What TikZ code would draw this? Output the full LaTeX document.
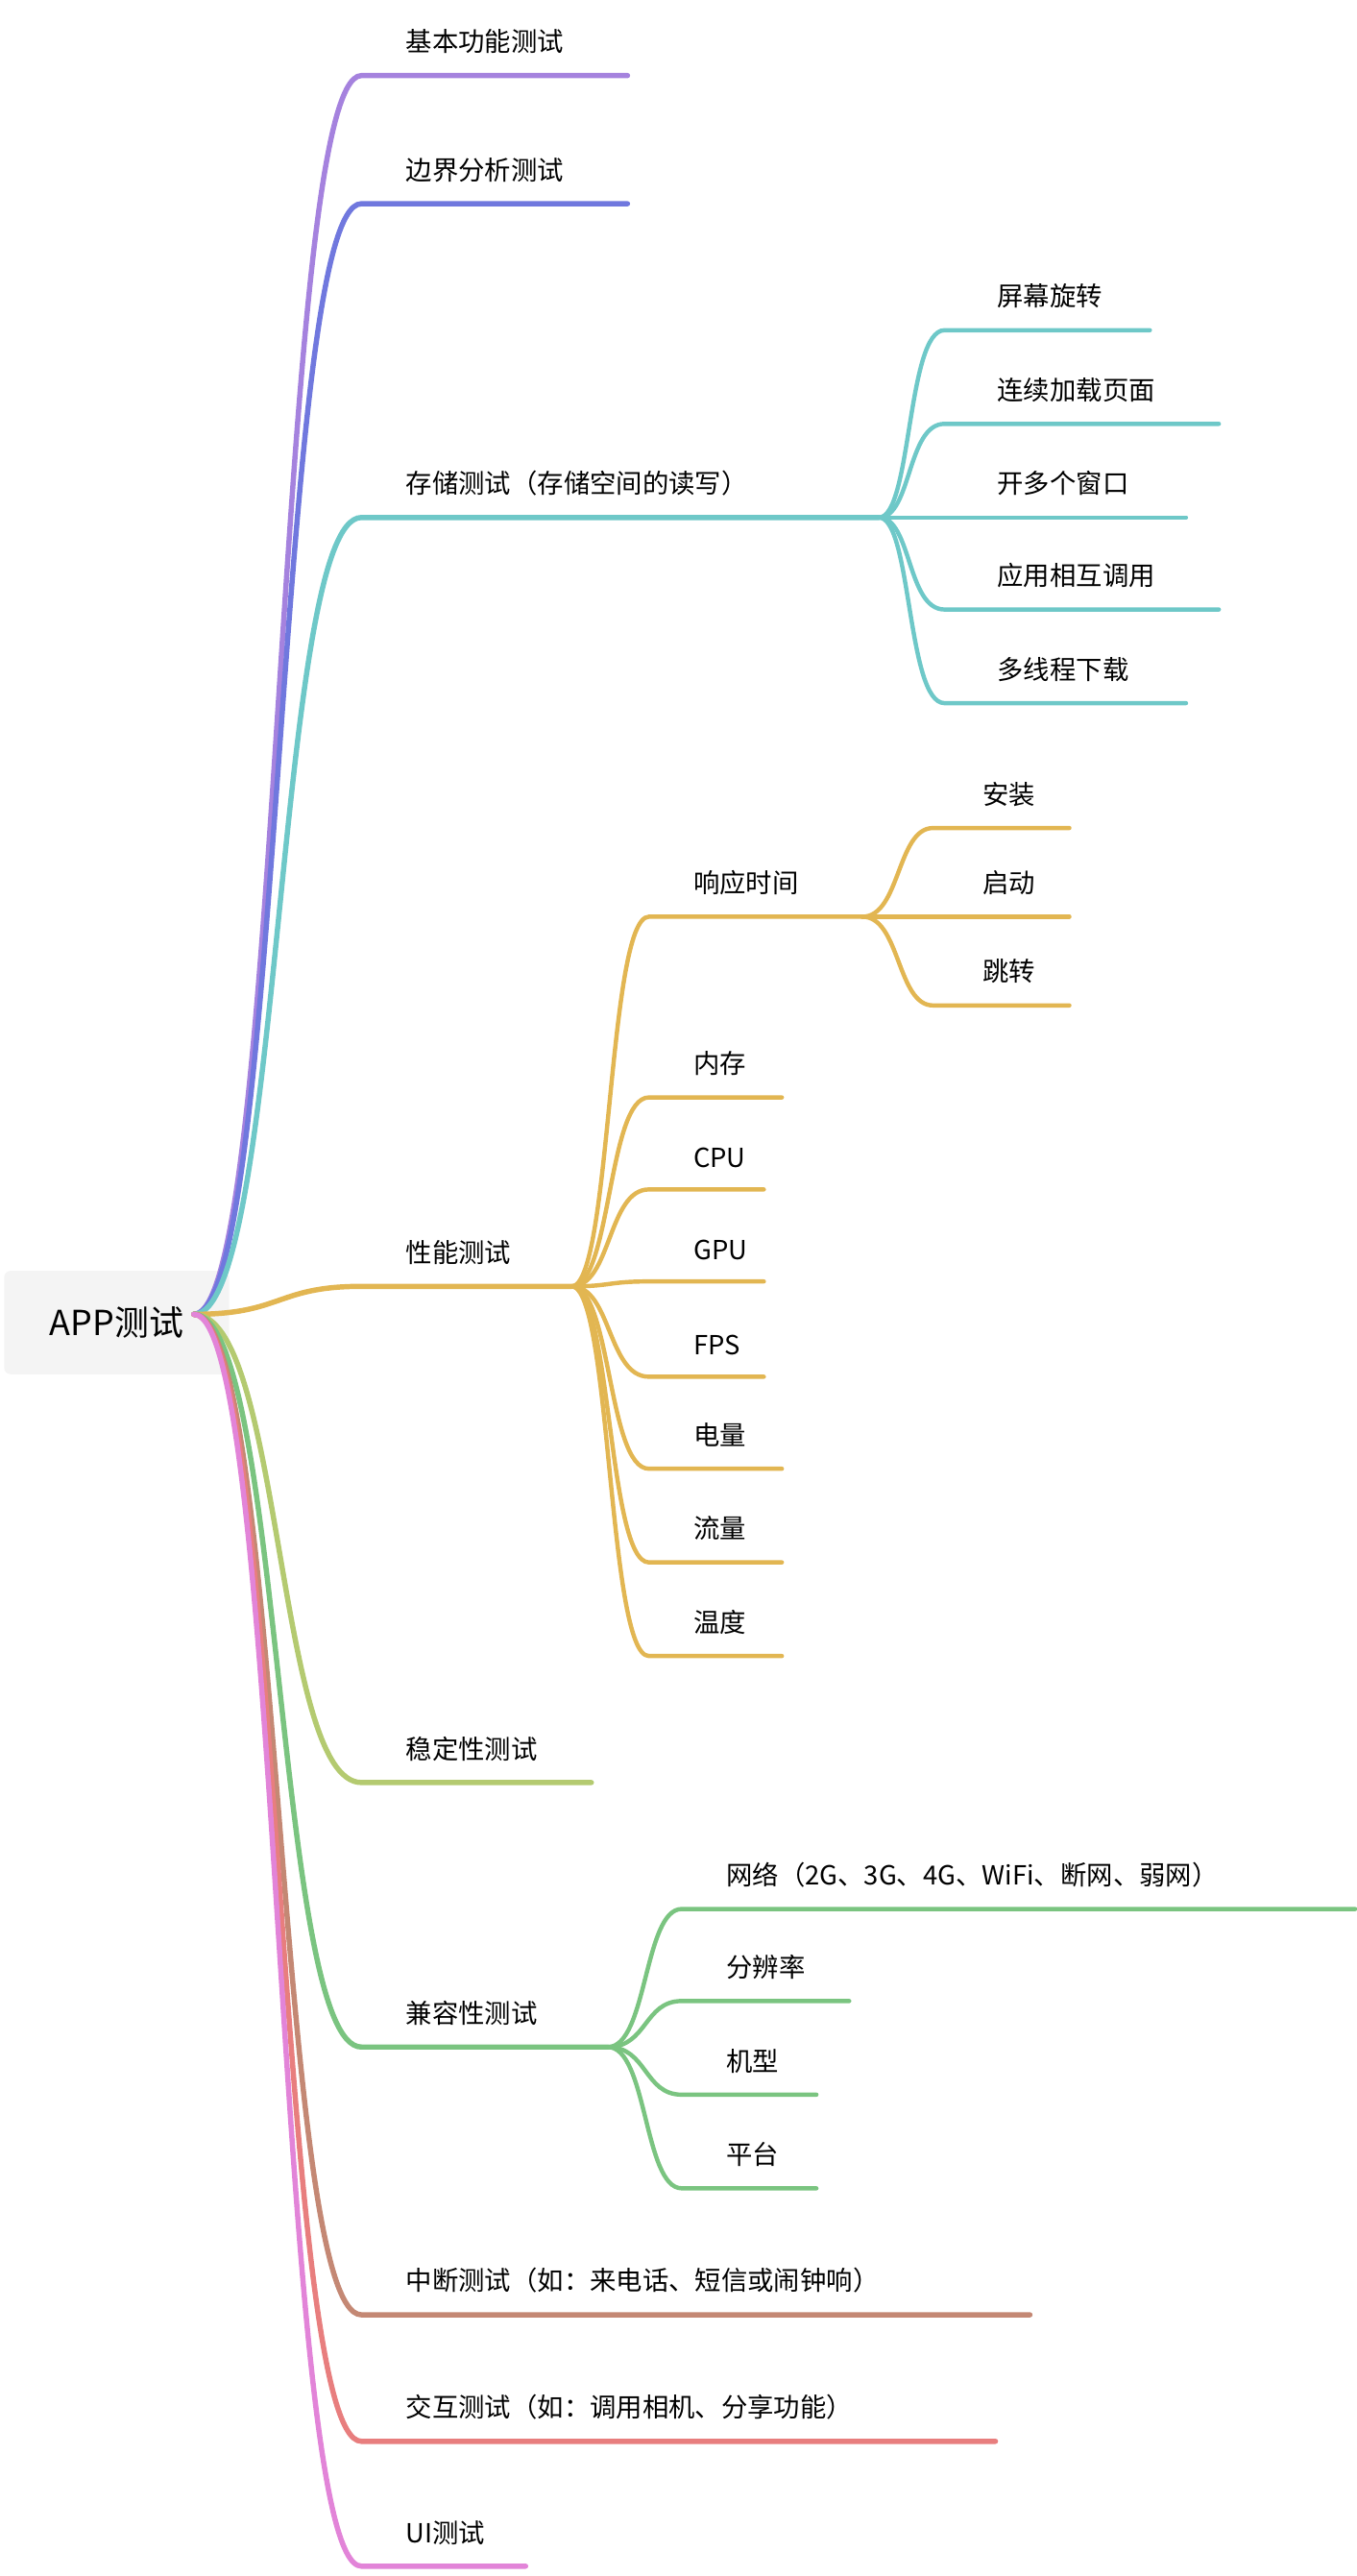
\documentclass[tikz,border=0pt]{standalone}
\usepackage{fontspec}
\setmainfont{Noto Sans CJK SC}
\usepackage{tikz}
\definecolor{cpurple}{RGB}{165, 130, 222}
\definecolor{cblue}{RGB}{112, 120, 222}
\definecolor{cteal}{RGB}{110, 200, 200}
\definecolor{cgold}{RGB}{226, 182, 82}
\definecolor{colive}{RGB}{180, 202, 112}
\definecolor{cgreen}{RGB}{122, 196, 128}
\definecolor{cbrown}{RGB}{196, 136, 116}
\definecolor{csalmon}{RGB}{232, 126, 126}
\definecolor{cpink}{RGB}{226, 132, 216}
\definecolor{gray95}{gray}{0.955}
\tikzset{
  label/.style={anchor=south west, inner sep=0pt, yshift=13pt, xshift=27pt, font=\fontsize{16}{18}\selectfont},
  branch/.style={line width=3.2pt, line cap=round},
  twig/.style={line width=2.6pt, line cap=round}
}
\begin{document}
\begin{tikzpicture}[x=1pt, y=-1pt]
  \useasboundingbox (0, 0) rectangle (826, 1568);
  \node[fill=gray95, rounded corners=4pt, minimum width=137pt, minimum height=63pt,
        font=\fontsize{21}{24}\selectfont] (root) at (71, 805) {APP测试};
  \coordinate (rootout) at (118, 800);

  % first level
  \foreach \n/\y/\xe/\c/\t in {1/46/382/cpurple/基本功能测试, 2/124/382/cblue/边界分析测试,
      3/315/535/cteal/存储测试（存储空间的读写）, 4/783/348/cgold/性能测试,
      5/1085/360/colive/稳定性测试, 6/1246/370/cgreen/兼容性测试,
      7/1409/627/cbrown/中断测试（如：来电话、短信或闹钟响）,
      8/1486/606/csalmon/交互测试（如：调用相机、分享功能）, 9/1562/320/cpink/UI测试} {
    \coordinate (b\n) at (220, \y);
    \coordinate (e\n) at (\xe, \y);
    \draw[branch, color=\c] (rootout) .. controls (172, 800) and (168, \y) .. (b\n) -- (e\n);
    \node[label] (t\n) at (b\n) {\t};
  }

  % storage
  \foreach \n/\y/\xe/\t in {1/201/700/屏幕旋转, 2/258/742/连续加载页面, 3/315/722/开多个窗口,
      4/371/742/应用相互调用, 5/428/722/多线程下载} {
    \coordinate (sb\n) at (575, \y);
    \coordinate (se\n) at (\xe, \y);
    \draw[twig, color=cteal] (e3) .. controls (555, 315) and (552, \y) .. (sb\n) -- (se\n);
    \node[label, xshift=5pt] (st\n) at (sb\n) {\t};
  }

  % performance
  \foreach \n/\y/\xe/\t in {1/558/525/响应时间, 2/668/476/内存, 3/724/465/CPU, 4/780/465/GPU,
      5/838/465/FPS, 6/894/476/电量, 7/951/476/流量, 8/1008/476/温度} {
    \coordinate (pb\n) at (395, \y);
    \coordinate (pe\n) at (\xe, \y);
    \draw[twig, color=cgold] (e4) .. controls (372, 783) and (370, \y) .. (pb\n) -- (pe\n);
    \node[label] (pt\n) at (pb\n) {\t};
  }
  \foreach \n/\y/\t in {1/504/安装, 2/558/启动, 3/612/跳转} {
    \coordinate (rb\n) at (568, \y);
    \coordinate (re\n) at (651, \y);
    \draw[twig, color=cgold] (pe1) .. controls (548, 558) and (546, \y) .. (rb\n) -- (re\n);
    \node[label, xshift=3pt] (rt\n) at (rb\n) {\t};
  }

  % compatibility
  \foreach \n/\y/\xe/\t in {1/1162/825/网络（2G、3G、4G、WiFi、断网、弱网）, 2/1218/517/分辨率,
      3/1275/497/机型, 4/1332/497/平台} {
    \coordinate (cb\n) at (415, \y);
    \coordinate (ce\n) at (\xe, \y);
    \draw[twig, color=cgreen] (e6) .. controls (394, 1246) and (392, \y) .. (cb\n) -- (ce\n);
    \node[label] (ct\n) at (cb\n) {\t};
  }
\end{tikzpicture}
\end{document}
